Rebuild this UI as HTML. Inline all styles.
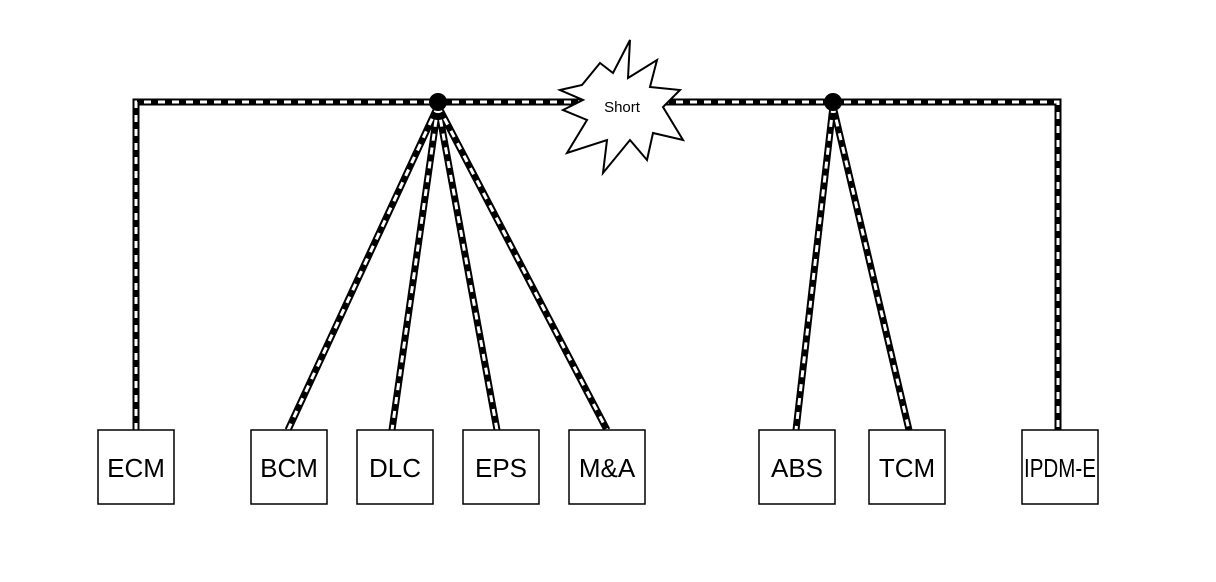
<!DOCTYPE html>
<html><head><style>
body{margin:0;background:#fff;}
svg{display:block;}
text{font-family:"Liberation Sans",sans-serif;}
</style></head><body>
<svg width="1216" height="582" viewBox="0 0 1216 582" xmlns="http://www.w3.org/2000/svg">
<g fill="none" stroke-linejoin="miter">
<g stroke="#000" stroke-width="7">
<path d="M136 430 V102 H1058 V430"/>
<path d="M438 106 L288 430 M438 106 L392 430 M438 106 L497 430 M438 106 L607 430"/>
<path d="M833 106 L796 430 M833 106 L909 430"/>
</g>
<g stroke="#fff" stroke-width="3" stroke-dasharray="7 7">
<path d="M136 430 V102 H1058 V430"/>
<path d="M438 106 L288 430 M438 106 L392 430 M438 106 L497 430 M438 106 L607 430"/>
<path d="M833 106 L796 430 M833 106 L909 430"/>
</g>
</g>
<circle cx="438" cy="102" r="9" fill="#000"/>
<circle cx="833" cy="102" r="9" fill="#000"/>
<polygon points="560,90 582,85 600,63 613,73 630,40 628,78 657,60 650,87 680,90 663,107 683,140 653,133 647,160 630,140 603,173 607,140 567,153 587,120 563,110 583,100" fill="#fff" stroke="#000" stroke-width="2"/>
<text x="622" y="112" font-size="15" text-anchor="middle">Short</text>
<g fill="#fff" stroke="#000" stroke-width="1.5">
<rect x="98" y="430" width="76" height="74"/>
<rect x="251" y="430" width="76" height="74"/>
<rect x="357" y="430" width="76" height="74"/>
<rect x="463" y="430" width="76" height="74"/>
<rect x="569" y="430" width="76" height="74"/>
<rect x="759" y="430" width="76" height="74"/>
<rect x="869" y="430" width="76" height="74"/>
<rect x="1022" y="430" width="76" height="74"/>
</g>
<g font-size="26" text-anchor="middle" fill="#000">
<text x="136" y="477">ECM</text>
<text x="289" y="477">BCM</text>
<text x="395" y="477">DLC</text>
<text x="501" y="477">EPS</text>
<text x="607" y="477">M&amp;A</text>
<text x="797" y="477">ABS</text>
<text x="907" y="477">TCM</text>
<text x="1060" y="477" textLength="72" lengthAdjust="spacingAndGlyphs">IPDM-E</text>
</g>
</svg>
</body></html>
